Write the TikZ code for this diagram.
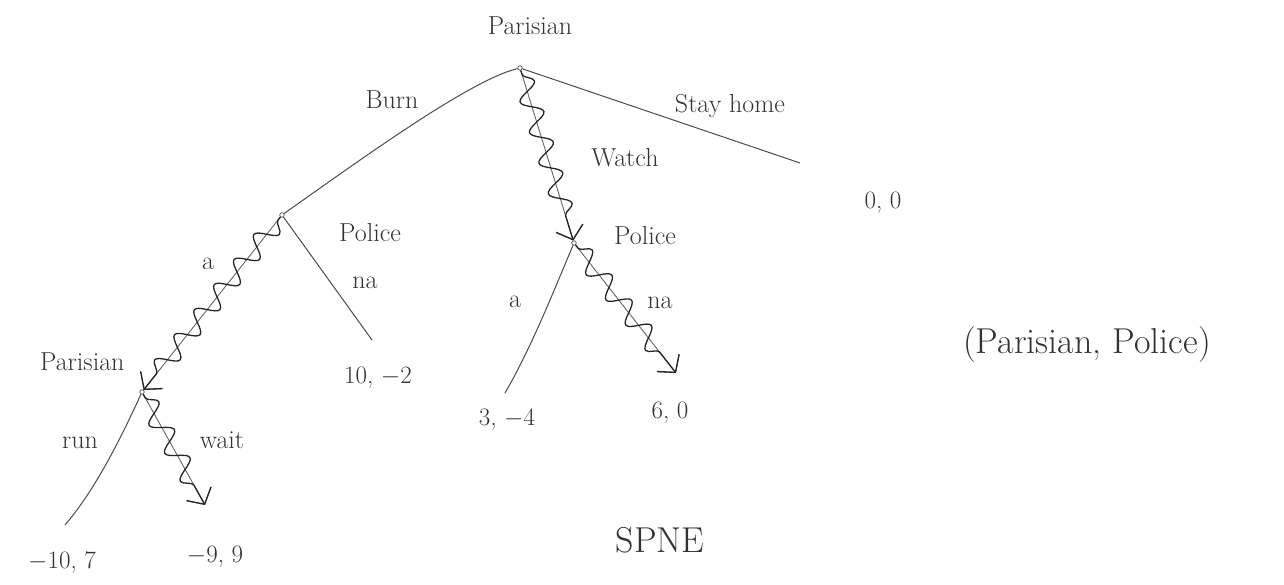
\documentclass[tikz,border=0pt]{standalone}
\usetikzlibrary{decorations.pathmorphing,arrows.meta}
\begin{document}
\begin{tikzpicture}[x=1pt,y=-1pt,
  dec/.style={circle,draw=black!70,inner sep=1.6pt,line width=0.7pt},
  edge/.style={draw=black!70,line width=1pt},
  choice/.style={draw=black!60,line width=0.9pt,
    postaction={decorate,draw=black!85,line width=1.3pt,
      decoration={snake,amplitude=10pt,segment length=32pt,pre length=4pt,post length=14pt}},
    -{Straight Barb[length=12pt,width=28pt]}},
  lbl/.style={font=\fontsize{26}{30}\selectfont,text=black!80},
  pay/.style={font=\fontsize{25}{30}\selectfont,text=black!80},
  big/.style={font=\fontsize{36}{40}\selectfont,text=black!80}]
\useasboundingbox (0,0) rectangle (1284,585);
% decision nodes
\node[dec] (r)  at (520,68)  {};
\node[dec] (p1) at (282,215) {};
\node[dec] (p2) at (574,243) {};
\node[dec] (q)  at (142,392) {};
% end points
\coordinate (tsh) at (800,163);
\coordinate (tna1) at (372,340);
\coordinate (ta2) at (505,393);
\coordinate (tna2) at (676,373);
\coordinate (trun) at (65,525);
\coordinate (twait) at (205,505);
% player labels
\node[lbl] (lr)  at (530,26)  {Parisian};
\node[lbl] (lp1) at (370,233) {Police};
\node[lbl] (lp2) at (645,236) {Police};
\node[lbl,anchor=east] (lq) at (128,362) {Parisian};
% action labels
\node[lbl] (aburn)  at (392,100) {Burn};
\node[lbl] (astay)  at (730,106) {Stay home};
\node[lbl] (awatch) at (625,158) {Watch};
\node[lbl] (ana1)   at (365,283) {na};
\node[lbl] (aa1)    at (208,264) {a};
\node[lbl] (ana2)   at (660,303) {na};
\node[lbl] (aa2)    at (515,302) {a};
\node[lbl] (arun)   at (80,443)  {run};
\node[lbl] (await)  at (222,440) {wait};
% payoffs
\node[pay] (o1) at (883,203) {0, 0};
\node[pay] (o2) at (378,378) {10, $-$2};
\node[pay] (o3) at (507,420) {3, $-$4};
\node[pay] (o4) at (670,413) {6, 0};
\node[pay] (o5) at (62,562)  {$-$10, 7};
\node[pay] (o6) at (215,557) {$-$9, 9};
% notes
\node[big] (eq)   at (1087,345) {(Parisian, Police)};
\node[big] (spne) at (660,540)  {SPNE};
% branches
\draw[edge] (r) .. controls (470,80) and (360,160) .. (p1);
\draw[edge] (r) -- (tsh);
\draw[choice] (r) -- (p2);
\draw[edge] (p2) .. controls (550,300) and (530,350) .. (ta2);
\draw[choice] (p2) -- (tna2);
\draw[edge] (p1) -- (tna1);
\draw[choice] (p1) -- (q);
\draw[edge] (q) .. controls (120,440) and (95,490) .. (trun);
\draw[choice] (q) -- (twait);
\end{tikzpicture}
\end{document}
